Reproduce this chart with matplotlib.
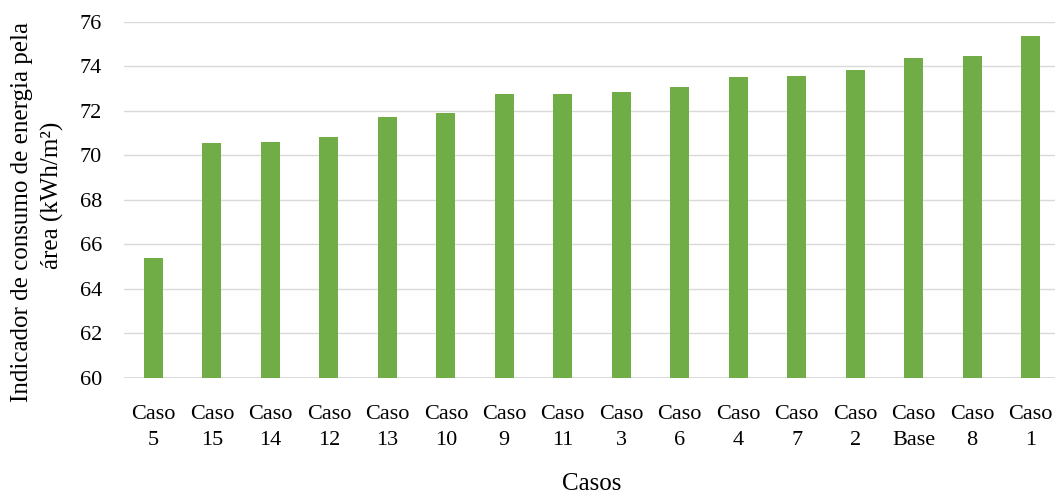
import matplotlib
matplotlib.use("Agg")
import matplotlib.pyplot as plt

casos = ["Caso\n5", "Caso\n15", "Caso\n14", "Caso\n12", "Caso\n13", "Caso\n10",
         "Caso\n9", "Caso\n11", "Caso\n3", "Caso\n6", "Caso\n4", "Caso\n7",
         "Caso\n2", "Caso\nBase", "Caso\n8", "Caso\n1"]
consumo = [65.38, 70.56, 70.60, 70.83, 71.73, 71.91, 72.76, 72.76, 72.85,
           73.08, 73.53, 73.57, 73.84, 74.38, 74.47, 75.37]
y_ticks = [60, 62, 64, 66, 68, 70, 72, 74, 76]

plt.rcParams["font.family"] = ["Liberation Serif", "DejaVu Serif"]

W, H = 1055, 495
fig = plt.figure(figsize=(W / 100, H / 100), dpi=100)
ax = fig.add_axes([124.3 / W, (H - 377.7) / H, 935.4 / W, 355.7 / H])

x = range(len(casos))
ax.bar(x, consumo, width=0.325, color="#70ad47", zorder=3)

ax.set_ylim(60, 76)
ax.set_xlim(-0.5, len(casos) - 0.5)
ax.set_yticks(y_ticks)
ax.set_yticklabels([str(v) for v in y_ticks])
ax.set_xticks(list(x))
ax.set_xticklabels(casos, linespacing=1.5)

ax.yaxis.grid(True, color="#d9d9d9", linewidth=1.0, zorder=0)
ax.set_axisbelow(True)
for s in ax.spines.values():
    s.set_visible(False)
ax.axhline(60, color="#d9d9d9", linewidth=1.3, zorder=2)

ax.tick_params(axis="both", length=0, labelsize=16, colors="#000000")
ax.tick_params(axis="x", pad=19.5)
ax.tick_params(axis="y", pad=16)

fig.text(22 / W, 1 - 212.5 / H, "Indicador de consumo de energia pela",
         rotation=90, ha="center", va="center", fontsize=18)
fig.text(52 / W, 1 - 195 / H, "área (kWh/m²)",
         rotation=90, ha="center", va="center", fontsize=18)
fig.text(592 / W, 11 / H, "Casos", ha="center", va="center", fontsize=18)

fig.savefig("out.png", dpi=100)
